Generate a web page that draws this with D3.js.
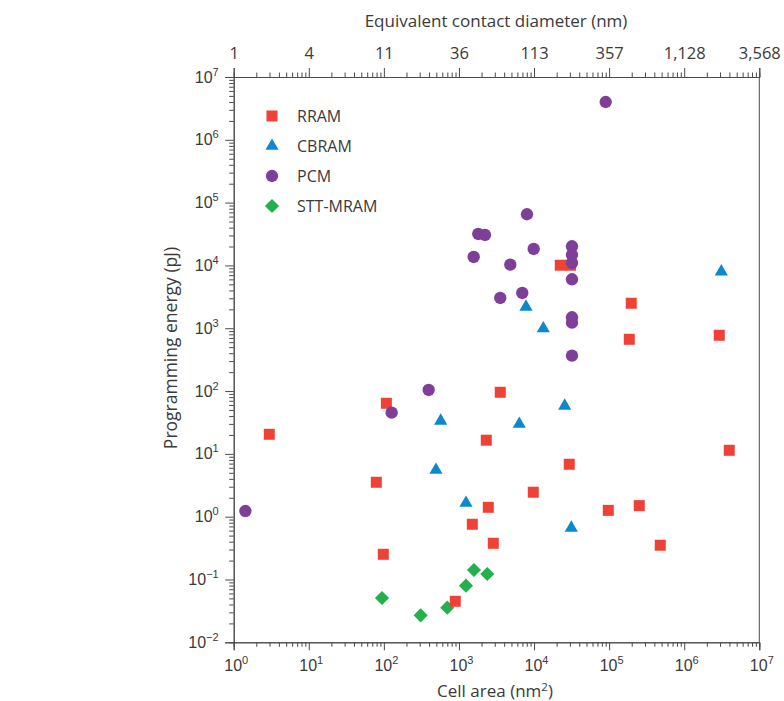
<!DOCTYPE html>
<html>
<head>
<meta charset="utf-8">
<script src="https://cdn.jsdelivr.net/npm/d3@7"></script>
<style>
  html, body { margin: 0; padding: 0; background: #fff; }
  svg { display: block; font-family: "Open Sans", "Noto Sans", sans-serif; }
</style>
</head>
<body>
<svg id="chart" width="784" height="701"></svg>
<script>
// ---------------- DATA ----------------
const seriesNames = ["RRAM", "CBRAM", "PCM", "STT-MRAM"];

// [cell area (nm^2), programming energy (pJ)]
const rramArea   = [2.98, 79.3, 98.3, 108, 893, 1506, 2312, 2459, 2867, 3550, 9770, 22350, 30570, 29450, 97500, 185500, 197000, 252000, 480000, 2.93e6, 3.98e6];
const rramEnergy = [20.5, 3.53, 0.252, 63.9, 0.045, 0.757, 16.5, 1.41, 0.377, 95.6, 2.45, 10070, 10070, 6.83, 1.26, 667, 2500, 1.50, 0.351, 773, 11.4];

const cbramArea   = [571, 494, 1241, 7810, 13290, 25600, 6360, 31330, 3.12e6];
const cbramEnergy = [33.4, 5.54, 1.65, 2183, 991, 57.9, 29.9, 0.661, 7960];

const pcmArea   = [1.43, 395, 127, 1571, 1808, 2221, 4830, 3550, 6970, 8050, 9890, 32000, 32000, 32000, 32000, 32000, 32000, 32000, 90000];
const pcmEnergy = [1.23, 104, 45.3, 13650, 31700, 30550, 10280, 3033, 3645, 65300, 18280, 20180, 14690, 10940, 6020, 1496, 1228, 366, 4.0e6];

const sttArea   = [94.4, 309, 699, 1241, 1585, 2384];
const sttEnergy = [0.0508, 0.0269, 0.0356, 0.0797, 0.1417, 0.1225];

const xTickValues = [1, 10, 100, 1000, 1e4, 1e5, 1e6, 1e7];
const xTickExponents = ["0", "1", "2", "3", "4", "5", "6", "7"];
const yTickValues = [1e-2, 1e-1, 1, 10, 100, 1000, 1e4, 1e5, 1e6, 1e7];
const yTickExponents = ["\u22122", "\u22121", "0", "1", "2", "3", "4", "5", "6", "7"];
const topTickLabels = ["1", "4", "11", "36", "113", "357", "1,128", "3,568"];

const xTitle = "Cell area (nm";
const yTitle = "Programming energy (pJ)";
const topTitle = "Equivalent contact diameter (nm)";

// ---------------- STYLE ----------------
const colors = { "RRAM": "#EF4136", "CBRAM": "#0B88CE", "PCM": "#7E3F98", "STT-MRAM": "#22B14C" };
const textColor = "#3a3a3a";
const axisColor = "#4a4a4a";

const svg = d3.select("#chart");
const x = d3.scaleLog().domain([1, 1e7]).range([233.7, 759.3]);
const y = d3.scaleLog().domain([1e-2, 1e7]).range([642.3, 77]);

function minorTicks(lo, hi) {
  const out = [];
  for (let e = lo; e < hi; e++) for (let k = 2; k <= 9; k++) out.push(k * Math.pow(10, e));
  return out;
}
const xMinor = minorTicks(0, 7);
const yMinor = minorTicks(-2, 7);

function styleAxis(g) {
  g.select(".domain").attr("stroke", axisColor).attr("stroke-width", 1);
  g.selectAll(".tick line").attr("stroke", axisColor).attr("stroke-width", 1);
}

// bottom axis
const gB = svg.append("g").attr("transform", `translate(0,${y.range()[0]})`);
gB.call(d3.axisBottom(x).tickValues(xMinor).tickSize(4.5).tickFormat("")).call(styleAxis);
const gB2 = svg.append("g").attr("transform", `translate(0,${y.range()[0]})`);
gB2.call(d3.axisBottom(x).tickValues(xTickValues).tickSize(8).tickFormat("")).call(styleAxis);
gB2.selectAll(".tick").append("text")
  .attr("x", 2).attr("y", 29)
  .attr("text-anchor", "middle")
  .attr("fill", textColor).attr("font-size", 16)
  .each(function(d, i) {
    const t = d3.select(this);
    t.append("tspan").text("10");
    t.append("tspan").attr("dy", -7).attr("font-size", 11).text(xTickExponents[i]);
  });

// top axis
const gT = svg.append("g").attr("transform", `translate(0,${y.range()[1]})`);
gT.call(d3.axisTop(x).tickValues(xMinor).tickSize(4.5).tickFormat("")).call(styleAxis);
const gT2 = svg.append("g").attr("transform", `translate(0,${y.range()[1]})`);
gT2.call(d3.axisTop(x).tickValues(xTickValues).tickSize(9).tickFormat((d, i) => topTickLabels[i])).call(styleAxis);
gT2.selectAll(".tick text").attr("fill", textColor).attr("font-size", 16.5)
  .attr("font-family", "'Open Sans', sans-serif").attr("y", -18).attr("dy", 0);

// left axis
const gL = svg.append("g").attr("transform", `translate(${x.range()[0]},0)`);
gL.call(d3.axisLeft(y).tickValues(yMinor).tickSize(4.5).tickFormat("")).call(styleAxis);
const gL2 = svg.append("g").attr("transform", `translate(${x.range()[0]},0)`);
gL2.call(d3.axisLeft(y).tickValues(yTickValues).tickSize(8.5).tickFormat("")).call(styleAxis);
gL2.selectAll(".tick").append("text")
  .attr("x", -15).attr("y", 5)
  .attr("text-anchor", "end")
  .attr("fill", textColor).attr("font-size", 16)
  .each(function(d, i) {
    const t = d3.select(this);
    t.append("tspan").text("10");
    t.append("tspan").attr("dy", -7).attr("font-size", 11).text(yTickExponents[i]);
  });

// right border
svg.append("line")
  .attr("x1", x.range()[1]).attr("x2", x.range()[1])
  .attr("y1", y.range()[1]).attr("y2", y.range()[0])
  .attr("stroke", axisColor).attr("stroke-width", 1);

// titles
const bt = svg.append("text").attr("x", 495).attr("y", 697).attr("text-anchor", "middle")
  .attr("fill", textColor).attr("font-size", 17);
bt.append("tspan").text(xTitle);
bt.append("tspan").attr("dy", -6.5).attr("font-size", 11.5).text("2");
bt.append("tspan").attr("dy", 6.5).text(")");

svg.append("text").attr("x", 496).attr("y", 27).attr("text-anchor", "middle")
  .attr("fill", textColor).attr("font-size", 17).text(topTitle);

svg.append("text").attr("transform", "translate(177,348) rotate(-90)").attr("text-anchor", "middle")
  .attr("fill", textColor).attr("font-size", 17.5).text(yTitle);

// symbols
const symGen = {
  "RRAM": d3.symbol().type(d3.symbolSquare).size(121),
  "CBRAM": d3.symbol().type(d3.symbolTriangle).size(75),
  "PCM": d3.symbol().type(d3.symbolCircle).size(120),
  "STT-MRAM": d3.symbol().type(d3.symbolSquare).size(100)
};
const symRot = { "RRAM": 0, "CBRAM": 0, "PCM": 0, "STT-MRAM": 45 };

function drawSeries(name, xs, ys) {
  const data = xs.map((v, i) => [v, ys[i]]);
  svg.append("g").selectAll("path").data(data).join("path")
    .attr("d", symGen[name]())
    .attr("fill", colors[name])
    .attr("transform", d => `translate(${x(d[0])},${y(d[1])}) rotate(${symRot[name]})`);
}
drawSeries("STT-MRAM", sttArea, sttEnergy);
drawSeries("RRAM", rramArea, rramEnergy);
drawSeries("CBRAM", cbramArea, cbramEnergy);
drawSeries("PCM", pcmArea, pcmEnergy);

// legend
const legend = svg.append("g").attr("transform", "translate(272,116)");
seriesNames.forEach((name, i) => {
  const g = legend.append("g").attr("transform", `translate(0,${i * 30})`);
  g.append("path").attr("d", symGen[name]()).attr("fill", colors[name])
    .attr("transform", `rotate(${symRot[name]})`);
  g.append("text").attr("x", 25).attr("y", 6).attr("fill", textColor).attr("font-size", 16).text(name);
});
</script>
</body>
</html>
